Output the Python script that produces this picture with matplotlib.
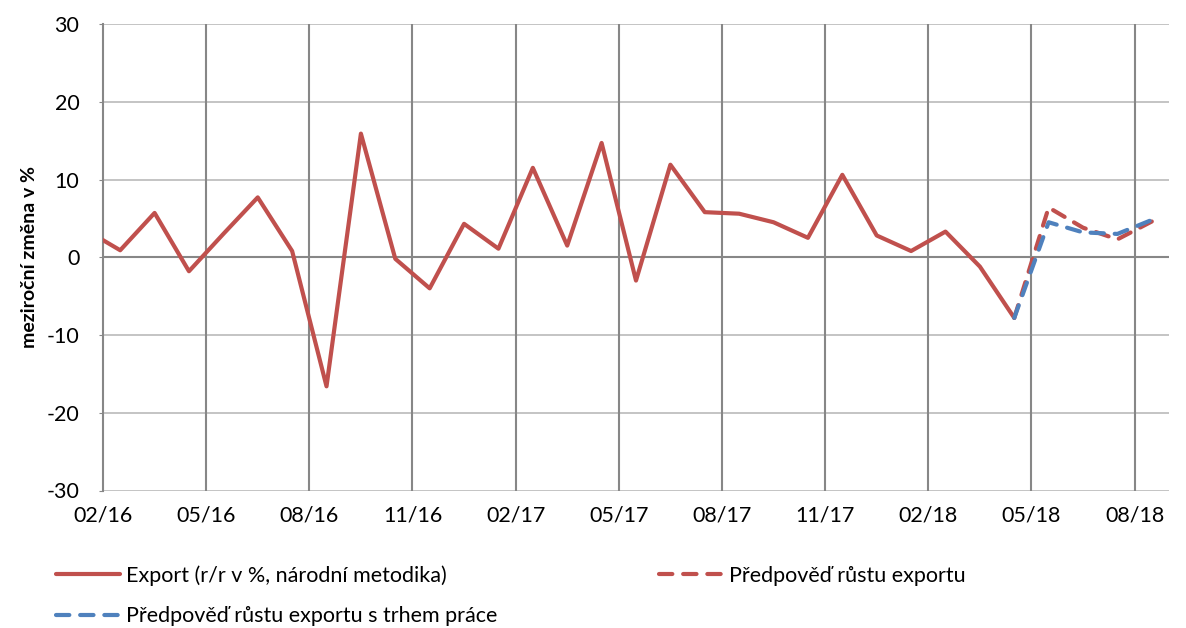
import numpy as np
import matplotlib.pyplot as plt

plt.rcParams['font.family'] = ['Lato', 'DejaVu Sans']
plt.rcParams['axes.unicode_minus'] = False

# monthly values, 01/16 .. 04/18 (actual), 04/18 .. 08/18 (forecasts)
export_actual = [3.5, 0.9, 5.7, -1.8, 3.0, 7.7, 0.8, -16.6, 15.9, -0.2, -4.0, 4.3,
                 1.1, 11.5, 1.5, 14.7, -3.0, 11.9, 5.8, 5.6, 4.5, 2.5, 10.6, 2.8,
                 0.8, 3.3, -1.2, -7.8]
forecast_export = [-7.8, 6.4, 3.8, 2.3, 4.6]
forecast_labour = [-7.8, 4.5, 3.2, 3.0, 4.8]
tick_labels = ['02/16', '05/16', '08/16', '11/16', '02/17', '05/17', '08/17',
               '11/17', '02/18', '05/18', '08/18']

red = '#C0504D'
blue = '#4F81BD'

# x in months from 02/16, points sit in the middle of each month
x_actual = np.arange(len(export_actual)) - 1 + 0.5
x_fc = np.arange(len(forecast_export)) + x_actual[-1]

fig = plt.figure(figsize=(11.86, 6.28), dpi=100)
ax = fig.add_axes([103 / 1186, 1 - 490.5 / 628, 1066 / 1186, 466.5 / 628])

l1, = ax.plot(x_actual, export_actual, color=red, lw=3, solid_capstyle='round',
              solid_joinstyle='round', label='Export (r/r v %, národní metodika)', zorder=3)
l2, = ax.plot(x_fc, forecast_export, color=red, lw=3, linestyle=(0, (3.2, 2.6)),
              dash_capstyle='round', label='Předpověď růstu exportu', zorder=3)
l3, = ax.plot(x_fc, forecast_labour, color=blue, lw=3, linestyle=(0, (3.2, 2.6)),
              dash_capstyle='round', label='Předpověď růstu exportu s trhem práce', zorder=4)

ax.set_xlim(0, 31)
ax.set_ylim(-30, 30)
ax.set_xticks(np.arange(0, 31, 3))
ax.set_xticklabels(tick_labels)
ax.set_yticks(np.arange(-30, 31, 10))

for y in range(-30, 31, 10):
    ax.axhline(y, color='#BFBFBF', lw=1.3, zorder=1)
ax.axhline(0, color='#878787', lw=1.5, zorder=2)
for xv in np.arange(3, 31, 3):
    ax.axvline(xv, color='#878787', lw=1.5, zorder=1)

for s in ['top', 'right', 'bottom']:
    ax.spines[s].set_visible(False)
ax.spines['left'].set_color('#878787')
ax.spines['left'].set_linewidth(1.5)

ax.tick_params(axis='x', length=0, pad=11, labelsize=15.5)
ax.tick_params(axis='y', length=3, color='#878787', pad=14, labelsize=15.5)
ax.set_ylabel('meziroční změna v %', fontsize=14, fontweight='bold', labelpad=6)

# order so that the legend fills row by row like the original
handles = [l1, l3, l2]
fig.legend(handles, [h.get_label() for h in handles], loc='upper left',
           bbox_to_anchor=(37 / 1186, 1 - 546 / 628), ncol=2,
           frameon=False, fontsize=15.5, handlelength=2.95, handletextpad=0.3,
           columnspacing=7.5, labelspacing=0.95)

fig.savefig('out.png', dpi=100)
